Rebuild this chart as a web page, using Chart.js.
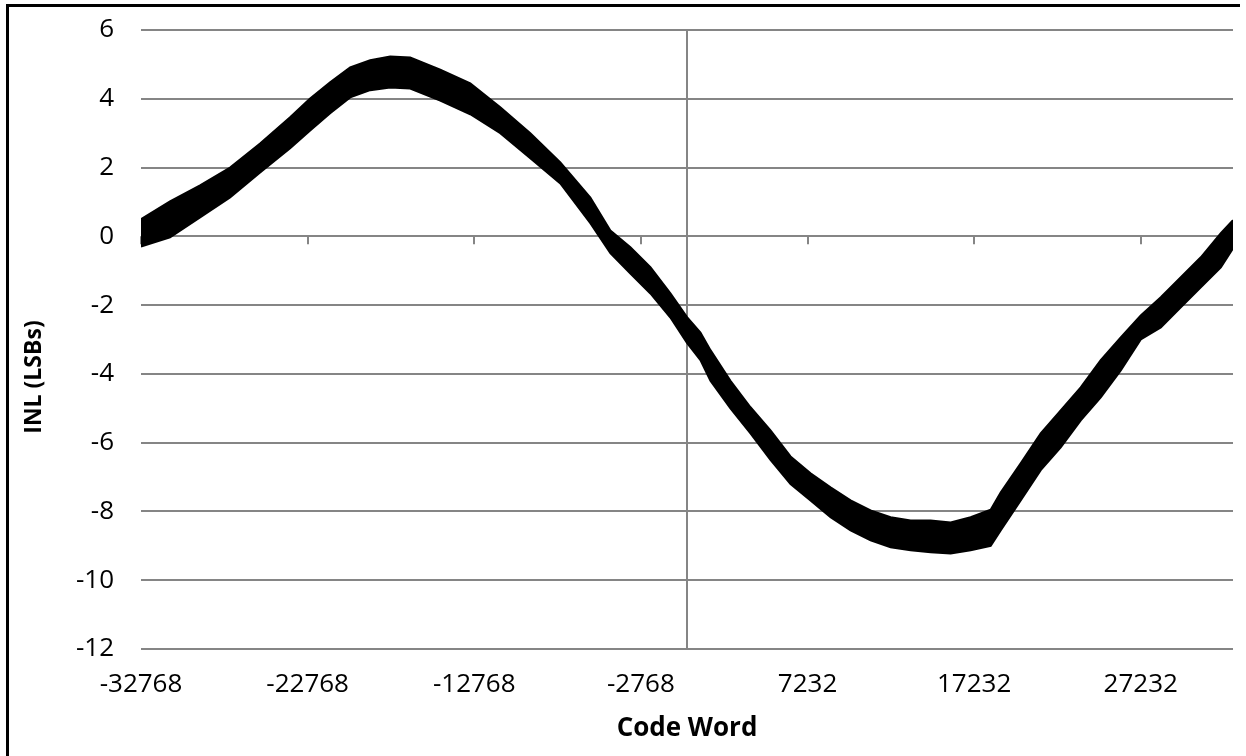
<!DOCTYPE html>
<html>
<head>
<meta charset="utf-8">
<script src="https://cdn.jsdelivr.net/npm/chart.js@4/dist/chart.umd.min.js"></script>
<style>
  html, body { margin: 0; padding: 0; background: #ffffff; overflow: hidden; }
  #wrap { position: relative; width: 1246px; height: 756px; overflow: hidden; }
  canvas { position: absolute; left: 0; top: 0; }
</style>
</head>
<body>
<div id="wrap">
  <canvas id="c" width="1246" height="756"></canvas>
</div>
<script>
// ---- data ----
const codeWords = [-32768, -31026, -29224, -27423, -25621, -23819, -22618, -21417, -20215, -19014,
  -17813, -16612, -14810, -13008, -11207, -9405, -7603, -5801, -4600, -3399,
  -2198, -997, 0, 806, 1407, 2608, 3810, 5011, 6212, 7413,
  8614, 9816, 11017, 12218, 13419, 14620, 15821, 17022, 18224, 18824,
  20025, 21227, 22428, 23629, 24830, 26031, 27232, 28434, 29635, 30836,
  32037, 32767];
const inlUpper = [0.50, 1.02, 1.48, 2.00, 2.70, 3.46, 4.01, 4.48, 4.91, 5.12,
  5.23, 5.20, 4.85, 4.45, 3.75, 3.00, 2.15, 1.13, 0.17, -0.32,
  -0.90, -1.66, -2.35, -2.80, -3.31, -4.20, -4.97, -5.64, -6.40, -6.89,
  -7.30, -7.68, -7.97, -8.17, -8.26, -8.26, -8.32, -8.17, -7.95, -7.45,
  -6.60, -5.73, -5.06, -4.39, -3.60, -2.94, -2.30, -1.77, -1.19, -0.61,
  0.09, 0.47];
const inlLower = [-0.30, -0.03, 0.55, 1.13, 1.86, 2.56, 3.08, 3.58, 4.04, 4.25,
  4.33, 4.30, 3.95, 3.55, 3.00, 2.27, 1.54, 0.38, -0.49, -1.08,
  -1.66, -2.36, -3.10, -3.60, -4.20, -5.00, -5.73, -6.50, -7.20, -7.68,
  -8.17, -8.55, -8.84, -9.04, -9.13, -9.19, -9.22, -9.13, -9.00, -8.55,
  -7.68, -6.80, -6.14, -5.35, -4.68, -3.90, -3.00, -2.65, -2.06, -1.48,
  -0.90, -0.35];
const xTickValues = [-32768, -22768, -12768, -2768, 7232, 17232, 27232];
const yMin = -12, yMax = 6, yStep = 2;
const xTitle = 'Code Word';
const yTitle = 'INL (LSBs)';

const upperPts = codeWords.map((c, i) => ({ x: c, y: inlUpper[i] }));
const lowerPts = codeWords.map((c, i) => ({ x: c, y: inlLower[i] }));

const GRID = '#858585';
const FONT = "'Open Sans', 'Liberation Sans', sans-serif";

const axisDecor = {
  id: 'axisDecor',
  beforeDraw(chart) {
    const { ctx, height } = chart;
    ctx.save();
    ctx.fillStyle = '#000';
    ctx.fillRect(6, 4, 3, height);   // outer chart frame, left edge
    ctx.fillRect(6, 4, 1234, 3);     // outer chart frame, top edge
    ctx.restore();
  },
  beforeDatasetsDraw(chart) {
    const { ctx, chartArea, scales } = chart;
    const xs = scales.x, ys = scales.y;
    ctx.save();
    ctx.strokeStyle = GRID;
    ctx.lineWidth = 2;
    const x0 = Math.round(xs.getPixelForValue(0));
    ctx.beginPath();
    ctx.moveTo(x0, chartArea.top);
    ctx.lineTo(x0, chartArea.bottom);
    ctx.stroke();
    const y0 = ys.getPixelForValue(0);
    xTickValues.forEach(v => {
      const px = Math.round(xs.getPixelForValue(v));
      ctx.beginPath();
      ctx.moveTo(px, y0);
      ctx.lineTo(px, y0 + 8);
      ctx.stroke();
    });
    ctx.restore();
  },
  afterDraw(chart) {
    const { ctx, chartArea } = chart;
    ctx.save();
    ctx.fillStyle = '#000';
    ctx.textAlign = 'center';
    ctx.textBaseline = 'middle';
    ctx.font = "bold 26px " + FONT;
    ctx.fillText(xTitle, (chartArea.left + chartArea.right) / 2, 729);
    ctx.font = "bold 23px " + FONT;
    ctx.translate(34, 377);
    ctx.rotate(-Math.PI / 2);
    ctx.fillText(yTitle, 0, 0);
    ctx.restore();
  }
};

new Chart(document.getElementById('c'), {
  type: 'line',
  data: {
    datasets: [
      { data: upperPts, borderColor: '#000', backgroundColor: '#000', borderWidth: 2,
        pointRadius: 0, fill: '+1', tension: 0 },
      { data: lowerPts, borderColor: '#000', backgroundColor: '#000', borderWidth: 2,
        pointRadius: 0, fill: false, tension: 0 }
    ]
  },
  options: {
    responsive: false,
    animation: false,
    devicePixelRatio: 1,
    layout: { padding: { top: 30, right: 13, left: 0, bottom: 0 } },
    plugins: { legend: { display: false }, tooltip: { enabled: false } },
    scales: {
      x: {
        type: 'linear',
        min: -32768, max: 32767,
        afterBuildTicks: (s) => { s.ticks = xTickValues.map(v => ({ value: v })); },
        afterFit: (s) => { s.height = 107; },
        grid: { display: false, drawTicks: false },
        border: { display: false },
        ticks: { color: '#000', font: { family: FONT, size: 26 }, padding: 20, maxRotation: 0,
                 autoSkip: false, callback: (v) => String(v) }
      },
      y: {
        type: 'linear',
        min: yMin, max: yMax,
        afterFit: (s) => { s.width = 141; s.paddingTop = 0; s.paddingBottom = 0; },
        grid: { color: GRID, lineWidth: 2, drawTicks: false },
        border: { display: false },
        ticks: { stepSize: yStep, color: '#000', font: { family: FONT, size: 26 }, padding: 27 }
      }
    }
  },
  plugins: [axisDecor]
});
</script>
</body>
</html>
